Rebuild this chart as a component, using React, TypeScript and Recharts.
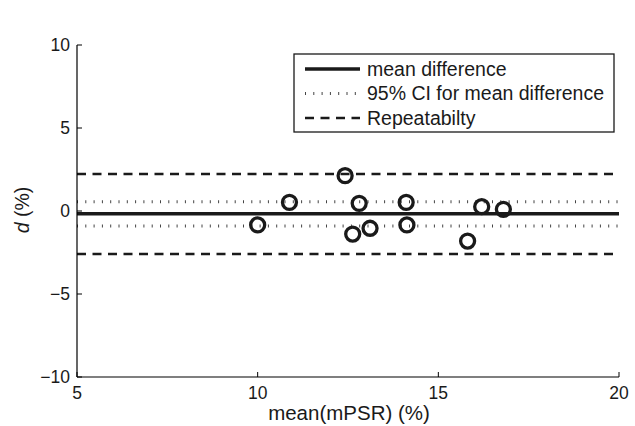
import React from 'react';
import { ScatterChart, Scatter, XAxis, YAxis, ReferenceLine } from 'recharts';

// mean of the two measurements (%) and their difference (%)
const meanPSR = [10.0, 10.88, 12.42, 12.63, 12.81, 13.11, 14.11, 14.13, 15.81, 16.2, 16.8];
const diffPct = [-0.84, 0.52, 2.13, -1.39, 0.46, -1.04, 0.52, -0.84, -1.81, 0.26, 0.1];

const xTicks = [5, 10, 15, 20];
const yTicks = [-10, -5, 0, 5, 10];

const meanDiff = -0.17;
const ciBounds = [-0.9, 0.56];
const repeatBounds = [-2.59, 2.23];

const legendLabels = ['mean difference', '95% CI for mean difference', 'Repeatabilty'];

const points = meanPSR.map((x, i) => ({ x, y: diffPct[i] }));

const font = '"Liberation Sans", Arial, Helvetica, sans-serif';
const ink = '#1a1a1a';

const dotted = { strokeDasharray: '1 7.3', strokeWidth: 3, stroke: '#444' };
const dashed = { strokeDasharray: '9 6.5', strokeWidth: 2.5, stroke: ink };
const solid = { strokeWidth: 3.5, stroke: ink };

const fmt = (v: number) => (v < 0 ? `−${Math.abs(v)}` : `${v}`);

const Ring = (props: any) => {
  const { cx, cy } = props;
  return <circle cx={cx} cy={cy} r={7} fill="none" stroke={ink} strokeWidth={3.3} />;
};

// inside ticks, matlab style
const BottomTick = (props: any) => {
  const { x, y, payload } = props;
  return (
    <g>
      <line x1={x} x2={x} y1={y} y2={y - 5} stroke="#000" strokeWidth={1} />
      <text x={x} y={y + 22} textAnchor="middle" fontSize={17.5} fill={ink} fontFamily={font}>
        {fmt(payload.value)}
      </text>
    </g>
  );
};

const LeftTick = (props: any) => {
  const { x, y, payload } = props;
  return (
    <g>
      <line x1={x} x2={x + 5} y1={y} y2={y} stroke="#000" strokeWidth={1} />
      <text x={x - 7} y={y + 6.3} textAnchor="end" fontSize={17.5} fill={ink} fontFamily={font}>
        {fmt(payload.value)}
      </text>
    </g>
  );
};

const TopTick = (props: any) => {
  const { x, y } = props;
  return <line x1={x} x2={x} y1={y} y2={y + 5} stroke="#000" strokeWidth={1} />;
};

const RightTick = (props: any) => {
  const { x, y } = props;
  return <line x1={x} x2={x - 5} y1={y} y2={y} stroke="#000" strokeWidth={1} />;
};

const TitleLabel = (props: any) => {
  const vb = props.viewBox || { x: 77, y: 45, width: 542 };
  return (
    <text x={vb.x + vb.width / 2 + 2} y={vb.y - 16} textAnchor="middle" fontSize={21} fill={ink} fontFamily={font}>
      Bland−Altman Plot
    </text>
  );
};

const XLabel = (props: any) => {
  const vb = props.viewBox || { x: 77, y: 377, width: 542 };
  return (
    <text x={vb.x + vb.width / 2 + 1} y={vb.y + 43} textAnchor="middle" fontSize={20.5} fill={ink} fontFamily={font}>
      mean(mPSR) (%)
    </text>
  );
};

const YLabel = () => (
  <text x={29} y={210} transform="rotate(-90 29 210)" textAnchor="middle" fontSize={19.5} fill={ink} fontFamily={font}>
    <tspan fontStyle="italic">d</tspan> (%)
  </text>
);

const Legend = () => (
  <svg width={322} height={80} style={{ position: 'absolute', left: 293, top: 53 }}>
    <rect x={1} y={1} width={320} height={78} fill="#fff" stroke={ink} strokeWidth={1.3} />
    <line x1={12} x2={67} y1={16} y2={16} {...solid} />
    <line x1={12} x2={67} y1={40.5} y2={40.5} {...dotted} />
    <line x1={12} x2={67} y1={65} y2={65} {...dashed} />
    {legendLabels.map((t, i) => (
      <text key={t} x={74} y={22.5 + i * 24.5} fontSize={19.5} fill={ink} fontFamily={font}>
        {t}
      </text>
    ))}
  </svg>
);

const axisStroke = { stroke: '#000', strokeWidth: 1.2 };

export default function App() {
  return (
    <div style={{ position: 'absolute', left: 0, top: 0, width: 635, height: 426, background: '#fff' }}>
      <ScatterChart width={635} height={426} margin={{ top: 45, right: 16, bottom: 0, left: 0 }}>
        <XAxis
          xAxisId="bottom"
          dataKey="x"
          type="number"
          domain={[5, 20]}
          ticks={xTicks}
          allowDataOverflow
          height={49}
          tickSize={0}
          tickMargin={0}
          tick={<BottomTick />}
          tickLine={false}
          axisLine={axisStroke}
          label={<XLabel />}
        />
        <XAxis
          xAxisId="top"
          orientation="top"
          type="number"
          domain={[5, 20]}
          ticks={xTicks}
          height={0}
          tickSize={0}
          tickMargin={0}
          tick={<TopTick />}
          tickLine={false}
          axisLine={axisStroke}
          label={<TitleLabel />}
        />
        <YAxis
          yAxisId="left"
          dataKey="y"
          type="number"
          domain={[-10, 10]}
          ticks={yTicks}
          allowDataOverflow
          width={77}
          tickSize={0}
          tickMargin={0}
          tick={<LeftTick />}
          tickLine={false}
          axisLine={axisStroke}
          label={<YLabel />}
        />
        <YAxis
          yAxisId="right"
          orientation="right"
          type="number"
          domain={[-10, 10]}
          ticks={yTicks}
          width={0}
          tickSize={0}
          tickMargin={0}
          tick={<RightTick />}
          tickLine={false}
          axisLine={axisStroke}
        />
        {repeatBounds.map((v) => (
          <ReferenceLine key={`r${v}`} xAxisId="bottom" yAxisId="left" y={v} {...dashed} />
        ))}
        {ciBounds.map((v) => (
          <ReferenceLine key={`c${v}`} xAxisId="bottom" yAxisId="left" y={v} {...dotted} />
        ))}
        <ReferenceLine xAxisId="bottom" yAxisId="left" y={meanDiff} {...solid} />
        <Scatter
          xAxisId="bottom"
          yAxisId="left"
          data={points}
          shape={<Ring />}
          isAnimationActive={false}
        />
      </ScatterChart>
      <Legend />
    </div>
  );
}
